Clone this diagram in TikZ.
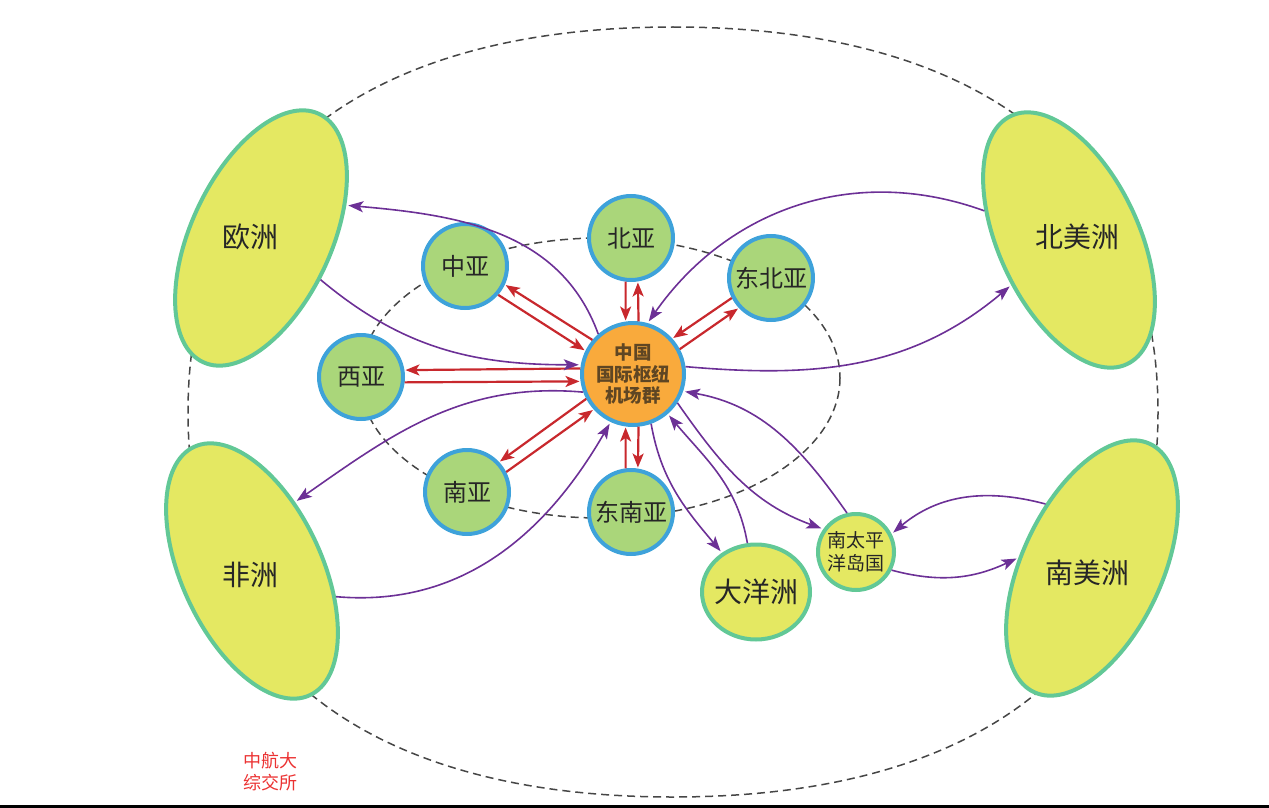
\documentclass[tikz,border=0pt]{standalone}
\usepackage{fontspec}
\setmainfont{Noto Sans CJK SC}
\usetikzlibrary{arrows.meta,shapes.geometric}
\definecolor{contfill}{RGB}{228,232,98}
\definecolor{contedge}{RGB}{98,200,150}
\definecolor{regfill}{RGB}{170,214,122}
\definecolor{regedge}{RGB}{62,162,218}
\definecolor{hubfill}{RGB}{249,170,60}
\definecolor{hubtext}{RGB}{95,70,35}
\definecolor{flowpurple}{RGB}{108,48,150}
\definecolor{flowred}{RGB}{200,40,45}
\definecolor{ringgray}{RGB}{70,70,70}
\definecolor{markred}{RGB}{235,50,50}
\begin{document}
\begin{tikzpicture}[x=1pt, y=-1pt,
    continent/.style={ellipse, draw=contedge, fill=contfill, line width=4pt,
        minimum width=140pt, minimum height=274pt, inner sep=0pt},
    bigtext/.style={font=\fontsize{28}{32}\selectfont, text=black!85},
    region/.style={circle, draw=regedge, fill=regfill, line width=4pt,
        minimum size=84pt, inner sep=0pt, font=\fontsize{24}{28}\selectfont, text=black!85},
    island/.style={draw=contedge, fill=contfill, line width=4pt, text=black!85},
    ring/.style={draw=ringgray, line width=1.5pt, dash pattern=on 8pt off 5pt},
    flow/.style={draw=flowpurple, line width=1.6pt, shorten >=2pt,
        -{Stealth[length=15pt, width=11pt, inset=3.5pt]}},
    link/.style={draw=flowred, line width=2.2pt, shorten >=1pt,
        -{Stealth[length=14pt, width=11pt, inset=3.5pt]}}]
\useasboundingbox (0,0) rectangle (1269,808);

% rings
\draw[ring] (673,27) .. controls (983.4,27) and (1158,165.6) .. (1158,412)
    .. controls (1158,658.4) and (983.4,797) .. (673,797)
    .. controls (362.6,797) and (188,658.4) .. (188,412)
    .. controls (188,165.6) and (362.6,27) .. (673,27);
\draw[ring] (600,378) ellipse [x radius=240, y radius=140];

% continents
\node[continent, rotate=-25] (eu) at (261,238) {};
\node[continent, rotate=25] (af) at (252,571) {};
\node[continent, rotate=25] (nam) at (1069,240) {};
\node[continent, rotate=-25] (sam) at (1092,568) {};
\node[bigtext] (eut) at (250,237) {欧洲};
\node[bigtext] (aft) at (250,575) {非洲};
\node[bigtext] (namt) at (1077,237) {北美洲};
\node[bigtext] (samt) at (1087,573) {南美洲};

% regions
\node[region] (ba) at (631,238) {北亚};
\node[region] (za) at (465,266) {中亚};
\node[region] (dba) at (771,278) {东北亚};
\node[region] (xa) at (361,377) {西亚};
\node[region] (na) at (467,492) {南亚};
\node[region] (dna) at (631,512) {东南亚};
\node[circle, draw=regedge, fill=hubfill, line width=4pt, minimum size=102pt, inner sep=-3pt,
    align=center, text=hubtext, font=\bfseries\fontsize{18.5}{21.5}\selectfont] (hub) at (633,374)
    {中国\\国际枢纽\\机场群};
\node[island, ellipse, minimum width=108pt, minimum height=95pt, inner sep=-6pt,
    font=\fontsize{28}{32}\selectfont] (dyz) at (756,592) {大洋洲};
\node[island, circle, minimum size=76pt, inner sep=0pt, align=center,
    font=\fontsize{19}{23}\selectfont] (ntp) at (856,552) {南太平\\洋岛国};

% red links hub <-> regions
\foreach \r/\a/\s in {za/147/1, ba/91/1, dba/35/1, xa/181/1, na/215/1, dna/269/-1}{
    \pgfmathtruncatemacro\hin{\a+7*\s}
    \pgfmathtruncatemacro\hout{\a-7*\s}
    \pgfmathtruncatemacro\rin{\a+180-8*\s}
    \pgfmathtruncatemacro\rout{\a+180+8*\s}
    \draw[link] (\r.\rin) -- (hub.\hin);
    \draw[link] (hub.\hout) -- (\r.\rout);
}

% purple flows
\draw[flow] (hub.131) to[out=110, in=-5] (eu.46);
\draw[flow] (eu.-10) to[out=-40, in=180] (hub.170);
\draw[flow] (hub.200) to[out=175, in=35] (af.33);
\draw[flow] (af.-42) to[out=-5, in=-120] (hub.245);
\draw[flow] (nam.136) to[out=160, in=55] (hub.74);
\draw[flow] (hub.8) to[out=-5, in=220] (nam.193);
\draw[flow] (hub.-70) to[out=-80, in=130] (dyz.131);
\draw[flow] (dyz.100) to[out=100, in=-50] (hub.-49);
\draw[flow] (hub.-33) to[out=-55, in=160] (ntp.145);
\draw[flow] (ntp.103) to[out=125, in=-10] (hub.-19);
\draw[flow] (sam.151) to[out=165, in=40] (ntp.27);
\draw[flow] (ntp.-27) to[out=-15, in=205] (sam.197);

\node[align=center, text=markred, font=\fontsize{18}{22}\selectfont] (mark) at (270,772) {中航大\\综交所};
\fill (0,805) rectangle (1269,808);
\end{tikzpicture}
\end{document}
